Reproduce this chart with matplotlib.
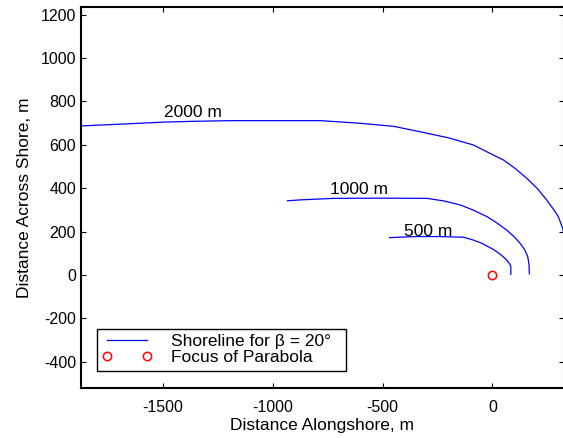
import numpy as np
import matplotlib
matplotlib.use('Agg')
import matplotlib.pyplot as plt

plt.rcParams['font.family'] = ['Liberation Sans', 'DejaVu Sans']
plt.rcParams['axes.unicode_minus'] = False

# shoreline points (m)
x500 = [-468, -400, -344, -250, -132, -90, -48, 0, 20, 45, 65, 78, 84, 84]
y500 = [172, 175, 177, 177, 174, 162, 146, 120, 107, 88, 69, 52, 38, 3]

x1000 = [-933, -875, -723, -500, -298, -220, -147, -85, -25, 20, 65, 100, 126, 148, 161, 167, 168]
y1000 = [342, 346, 353, 354, 353, 341, 323, 298, 269, 240, 207, 175, 146, 115, 84, 45, 5]

x2000 = [-1870, -1672, -1506, -1370, -1203, -1000, -875, -779, -601, -450, -329, -200,
         -86, -20, 50, 105, 156, 205, 247, 280, 300, 320, 332, 338, 340]
y2000 = [687, 696, 704, 708, 711, 711, 711, 711, 699, 685, 660, 632,
         599, 565, 530, 490, 446, 398, 346, 300, 269, 215, 150, 80, 5]

focus_x = [0]
focus_y = [0]

labels = ['500 m', '1000 m', '2000 m']
label_x = [-401, -741, -1497]
label_y = [200, 396, 751]

fig = plt.figure(figsize=(5.63, 4.38), dpi=100)
ax = fig.add_axes([81/563, 50/438, (564-81)/563, 381/438])

ax.plot(x500, y500, color='b', linewidth=0.9, label='Shoreline for β = 20°  ')
ax.plot(x1000, y1000, color='b', linewidth=0.9)
ax.plot(x2000, y2000, color='b', linewidth=0.9)
ax.plot(focus_x, focus_y, 'o', color='r', markerfacecolor='none', markersize=6,
        markeredgewidth=1.1, label='Focus of Parabola')

for t, lx, ly in zip(labels, label_x, label_y):
    ax.text(lx, ly, t, fontsize=12.5, ha='left', va='center')

ax.set_xlim(-1873, 326)
ax.set_ylim(-521, 1235)
ax.set_xticks([-1500, -1000, -500, 0])
ax.set_yticks(np.arange(-400, 1201, 200))
ax.tick_params(direction='in', length=3.5, width=0.8, labelsize=11.5, top=True, right=True)
ax.tick_params(axis='x', pad=8.5)
for s in ax.spines.values():
    s.set_linewidth(1.5)

ax.set_xlabel('Distance Alongshore, m', fontsize=12.5, labelpad=2)
ax.set_ylabel('Distance Across Shore, m', fontsize=12.5, labelpad=6)

leg = ax.legend(loc='lower left', bbox_to_anchor=(0.0325, 0.0454), fontsize=12.5,
                numpoints=2, handlelength=2.9, handletextpad=1.1, borderaxespad=0,
                borderpad=0.3, labelspacing=0.08, fancybox=False, framealpha=1)
leg.get_frame().set_edgecolor('k')
leg.get_frame().set_linewidth(1.0)

fig.savefig('out.png', dpi=100)
